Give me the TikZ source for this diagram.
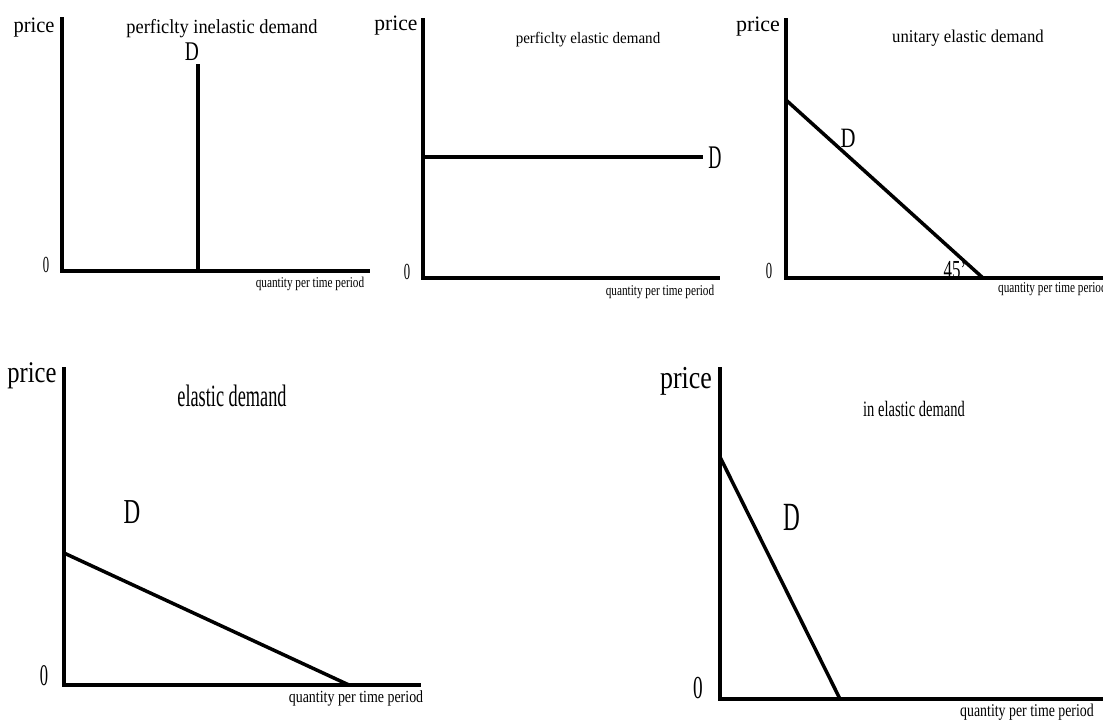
\documentclass[tikz,border=0pt]{standalone}
\usepackage{fontspec}
\setmainfont{Liberation Serif}
\usepackage{tikz}
\usetikzlibrary{positioning}
% condensed text: size, horizontal squeeze, text
\newcommand{\lbl}[3]{\fontsize{#1}{#1}\selectfont\scalebox{#2}[1]{#3}}
\tikzstyle{axis} = [line width=3.5pt, line join=miter]
\tikzstyle{curve} = [line width=3.5pt]
\tikzstyle{txt} = [inner sep=0pt, anchor=base]

\begin{document}
\begin{tikzpicture}[x=1pt, y=-1pt]
    \useasboundingbox (0,0) rectangle (1103,720);
    % axes of the five panels
    \foreach \ax/\ay/\by/\bx in {62/17/271/370, 423/18/278/720, 786/18/278/1103,
                                 64/367/685/421, 720/367/699/1103}{
        \draw[axis] (\ax,\ay) -- (\ax,\by) -- (\bx,\by);
      }
    % perfectly inelastic
    \draw[curve] (198,64) -- (198,271);
    \node[txt] (p1price) at (34,32) {\lbl{22}{0.93}{price}};
    \node[txt] (p1title) at (222,33) {\lbl{20}{0.92}{perficlty inelastic demand}};
    \node[txt] (p1d) at (192,60) {\lbl{27}{0.72}{D}};
    \node[txt] (p1zero) at (46,272) {\lbl{23}{0.55}{0}};
    \node[txt] (p1q) at (310,287) {\lbl{15}{0.75}{quantity per time period}};
    % perfectly elastic
    \draw[curve] (423,157) -- (703,157);
    \node[txt] (p2price) at (396,30) {\lbl{22}{0.98}{price}};
    \node[txt] (p2title) at (588,43) {\lbl{16}{0.94}{perficlty elastic demand}};
    \node[txt] (p2d) at (715,168) {\lbl{33}{0.55}{D}};
    \node[txt] (p2zero) at (407,279) {\lbl{23}{0.55}{0}};
    \node[txt] (p2q) at (660,295) {\lbl{15}{0.75}{quantity per time period}};
    % unitary elastic
    \draw[curve] (786,100) -- (983,278);
    \node[txt] (p3price) at (758,31) {\lbl{22}{1}{price}};
    \node[txt] (p3title) at (968,42) {\lbl{18}{0.93}{unitary elastic demand}};
    \node[txt] (p3d) at (848,147) {\lbl{28}{0.74}{D}};
    \node[txt] (p3deg) at (955,278) {\lbl{26}{0.65}{45'}};
    \node[txt] (p3zero) at (769,278) {\lbl{23}{0.55}{0}};
    \node[txt, anchor=base west] (p3q) at (998,292) {\lbl{15}{0.75}{quantity per time period}};
    % elastic
    \draw[curve] (64,553) -- (349,685);
    \node[txt] (p4price) at (32,382) {\lbl{30}{0.82}{price}};
    \node[txt] (p4title) at (232,406) {\lbl{31}{0.59}{elastic demand}};
    \node[txt] (p4d) at (132,523) {\lbl{35}{0.66}{D}};
    \node[txt] (p4zero) at (44,685) {\lbl{30}{0.55}{0}};
    \node[txt] (p4q) at (356,702) {\lbl{17}{0.82}{quantity per time period}};
    % inelastic
    \draw[curve] (720,457) -- (840,699);
    \node[txt] (p5price) at (686,388) {\lbl{32}{0.81}{price}};
    \node[txt] (p5title) at (914,416) {\lbl{22}{0.66}{in elastic demand}};
    \node[txt] (p5d) at (792,530) {\lbl{40}{0.58}{D}};
    \node[txt] (p5zero) at (698,698) {\lbl{32}{0.6}{0}};
    \node[txt] (p5q) at (1027,716) {\lbl{18}{0.77}{quantity per time period}};
\end{tikzpicture}
\end{document}
